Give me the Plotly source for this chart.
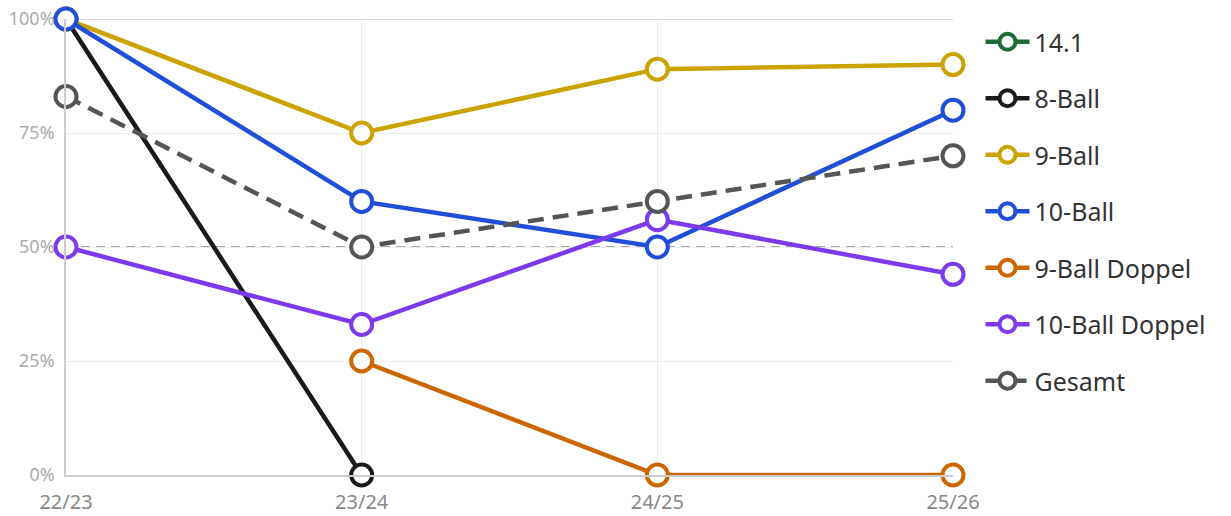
import plotly.graph_objects as go

seasons = ["22/23", "23/24", "24/25", "25/26"]
series_names = ["14.1", "8-Ball", "9-Ball", "10-Ball", "9-Ball Doppel", "10-Ball Doppel", "Gesamt"]
v_141 = [None, None, None, None]
v_8ball = [1.00, 0.00, None, None]
v_9ball = [1.00, 0.75, 0.89, 0.90]
v_10ball = [1.00, 0.60, 0.50, 0.80]
v_9doppel = [None, 0.25, 0.00, 0.00]
v_10doppel = [0.50, 0.33, 0.56, 0.44]
v_gesamt = [0.83, 0.50, 0.60, 0.70]
y_ticks = [0, 0.25, 0.5, 0.75, 1.0]
y_ticklabels = ["0%", "25%", "50%", "75%", "100%"]
reference_value = 0.5

values = [v_141, v_8ball, v_9ball, v_10ball, v_9doppel, v_10doppel, v_gesamt]
colors = ["#1e6b3a", "#1a1a1a", "#cba300", "#1f4fd8", "#cc6600", "#7c3aed", "#555555"]
dashes = ["solid"] * 6 + ["16px,9px"]

fig = go.Figure()
for i, (name, vals, col, dsh) in enumerate(zip(series_names, values, colors, dashes)):
    fig.add_trace(go.Scatter(
        x=list(range(len(seasons))), y=vals, name=name, mode="lines+markers",
        line=dict(color=col, width=4.5, dash=dsh),
        marker=dict(size=21, color="white", line=dict(color=col, width=4)),
        cliponaxis=False, legendgroup=f"g{i}", connectgaps=False,
    ))

fig.add_shape(type="line", xref="paper", yref="y", x0=0, x1=1, y0=reference_value, y1=reference_value,
              line=dict(color="#aaaaaa", width=2, dash="9px,6px"), layer="below")
fig.add_shape(type="line", xref="paper", yref="y", x0=0, x1=1, y0=1, y1=1,
              line=dict(color="#cccccc", width=1.5), layer="below")

fig.update_layout(
    width=1231, height=516,
    margin=dict(l=66, r=278, t=19, b=41, autoexpand=False),
    paper_bgcolor="white", plot_bgcolor="white",
    font=dict(family="Noto Sans, Open Sans, sans-serif"),
    showlegend=True,
    legend=dict(x=1.031, xanchor="left", y=1.0, yanchor="top", xref="paper",
                font=dict(size=25, color="#333333"), tracegroupgap=21,
                itemwidth=44, traceorder="grouped"),
    xaxis=dict(range=[0, 3], tickmode="array", tickvals=list(range(len(seasons))), ticktext=seasons,
               showgrid=True, gridcolor="#ececec", gridwidth=1,
               showline=True, linecolor="#cccccc", linewidth=1.5,
               tickfont=dict(size=20, color="#888888"), ticks="", zeroline=False, automargin=False,
               ticklabelstandoff=8),
    yaxis=dict(range=[0, 1], tickmode="array", tickvals=y_ticks, ticktext=y_ticklabels,
               showgrid=True, gridcolor="#ececec", gridwidth=1,
               showline=True, linecolor="#cccccc", linewidth=1.5,
               tickfont=dict(size=18, color="#aaaaaa"), ticks="", zeroline=False, ticklabelstandoff=6,
               automargin=False),
)

fig.write_html("out.html", config={"displayModeBar": False},
               post_script="document.body.style.margin='0';")
